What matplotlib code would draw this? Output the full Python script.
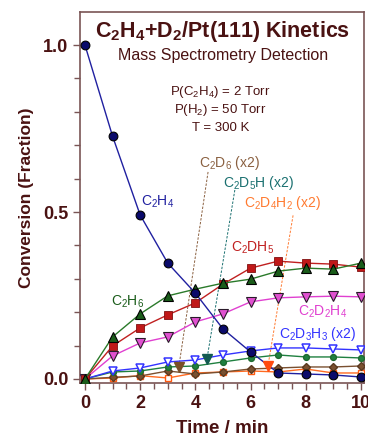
import numpy as np
import matplotlib
matplotlib.use('Agg')
import matplotlib.pyplot as plt
from matplotlib.ticker import MultipleLocator

plt.rcParams['font.family'] = ['Liberation Sans', 'DejaVu Sans']
plt.rcParams['mathtext.fontset'] = 'custom'
plt.rcParams['mathtext.rm'] = 'Liberation Sans'
plt.rcParams['mathtext.bf'] = 'Liberation Sans:bold'

# ─────────────────────────────────────────
# DATA
# ─────────────────────────────────────────
time = [0, 1, 2, 3, 4, 5, 6, 7, 8, 9, 10]

c2h4   = [1.0, 0.727, 0.491, 0.347, 0.257, 0.150, 0.081, 0.018, 0.015, 0.012, 0.006]
c2h6   = [0.0, 0.126, 0.195, 0.249, 0.269, 0.287, 0.299, 0.323, 0.332, 0.329, 0.347]
c2dh5  = [0.0, 0.099, 0.153, 0.192, 0.228, 0.284, 0.332, 0.353, 0.347, 0.344, 0.335]
c2d2h4 = [0.0, 0.069, 0.108, 0.126, 0.171, 0.195, 0.231, 0.243, 0.246, 0.248, 0.246]
c2d3h3 = [0.0, 0.024, 0.033, 0.051, 0.057, 0.072, 0.084, 0.093, 0.093, 0.090, 0.087]
c2d5h  = [0.0, 0.021, 0.024, 0.036, 0.039, 0.051, 0.063, 0.072, 0.066, 0.066, 0.063]
c2d6   = [0.0, 0.005, 0.009, 0.024, 0.015, 0.021, 0.030, 0.033, 0.036, 0.036, 0.039]
c2d4h2 = [0.0, 0.003, 0.010, 0.003, 0.018, 0.021, 0.024, 0.021, 0.030, 0.018, 0.018]

# pointer arrows: (label position, line start, arrow tip)
pointer_labels = [r'C$_2$D$_6$ (x2)', r'C$_2$D$_5$H (x2)', r'C$_2$D$_4$H$_2$ (x2)']
pointer_text_xy = [(5.25, 0.647), (6.27, 0.587), (7.17, 0.527)]
pointer_start = [(4.46, 0.62), (5.43, 0.566), (7.54, 0.49)]
pointer_tip = [(3.40, 0.036), (4.42, 0.060), (6.63, 0.039)]
pointer_colors = ['#8a6040', '#1a7070', '#ff7a30']
pointer_fill = ['#7a5028', '#125a50', '#ff4a10']

ink = '#4a1212'
spine = '#7a5555'

# ─────────────────────────────────────────
# PLOT
# ─────────────────────────────────────────
fig = plt.figure(figsize=(3.68, 4.38), dpi=100)
ax = fig.add_axes([80/368, 1 - 383/438, 284/368, 371/438])

ax.plot(time, c2d4h2, '-s', color='#ff6a20', mfc='white', mec='#ff5a10',
        ms=4.5, lw=1.0, mew=1.0, zorder=3)
ax.plot(time, c2d6, '-D', color='#7a5030', mfc='#7a5030', mec='#5a3a20',
        ms=4.5, lw=1.0, zorder=3)
ax.plot(time, c2d5h, '-o', color='#1f8040', mfc='#1f8040', mec='#1f6a30',
        ms=4.2, lw=1.0, zorder=3)
ax.plot(time, c2d3h3, '-v', color='#3333ff', mfc='white', mec='#3333ff',
        ms=6, lw=1.0, mew=1.1, zorder=3)
ax.plot(time, c2d2h4, '-v', color='#e040d0', mfc='#e050d0', mec='#2a1a2a',
        ms=6.5, lw=1.0, mew=0.8, zorder=4)
ax.plot(time, c2dh5, '-s', color='#c02020', mfc='#c01818', mec='#801010',
        ms=5.2, lw=1.0, mew=0.6, zorder=4)
ax.plot(time, c2h6, '-^', color='#2a7a2a', mfc='#1a5c1a', mec='black',
        ms=6.5, lw=1.0, mew=0.8, zorder=4)
ax.plot(time, c2h4, '-o', color='#2020a0', mfc='#0a0a6a', mec='black',
        ms=6.3, lw=1.0, mew=0.8, zorder=5)

for lab, txy, st, tip, col, fc in zip(pointer_labels, pointer_text_xy,
                                       pointer_start, pointer_tip,
                                       pointer_colors, pointer_fill):
    ax.plot([st[0], tip[0]], [st[1], tip[1]], '--', color=col, lw=0.7,
            dashes=(2.5, 1.5), zorder=2)
    ax.plot(tip[0], tip[1], 'v', color=fc, ms=7, mec=fc, zorder=6)
    ax.text(txy[0], txy[1], lab, color=col, fontsize=10,
            ha='center', va='center')

lab_fs = 10
ax.text(2.64, 0.53, r'C$_2$H$_4$', color='#2020a0', fontsize=lab_fs,
        ha='center', va='center')
ax.text(6.09, 0.392, r'C$_2$DH$_5$', color='#c02020', fontsize=lab_fs,
        ha='center', va='center')
ax.text(1.56, 0.23, r'C$_2$H$_6$', color='#1a5c1a', fontsize=lab_fs,
        ha='center', va='center')
ax.text(8.62, 0.20, r'C$_2$D$_2$H$_4$', color='#e040d0', fontsize=lab_fs,
        ha='center', va='center')
ax.text(8.42, 0.135, r'C$_2$D$_3$H$_3$ (x2)', color='#3333ff', fontsize=lab_fs,
        ha='center', va='center')

# title and conditions
ax.text(5.0, 1.04, r'$\mathbf{C_2H_4}$+$\mathbf{D_2}$/Pt(111) Kinetics',
        color=ink, fontsize=15.5, fontweight='bold', ha='center', va='center')
ax.text(5.0, 0.968, 'Mass Spectrometry Detection', color=ink,
        fontsize=11.5, ha='center', va='center')
ax.text(4.9, 0.86, r'P(C$_2$H$_4$) = 2 Torr', color=ink, fontsize=9.5,
        ha='center', va='center')
ax.text(4.9, 0.806, r'P(H$_2$) = 50 Torr', color=ink, fontsize=9.5,
        ha='center', va='center')
ax.text(4.9, 0.752, 'T = 300 K', color=ink, fontsize=9.5,
        ha='center', va='center')

ax.set_xlim(-0.18, 10.11)
ax.set_ylim(-0.012, 1.099)
ax.set_xticks([0, 2, 4, 6, 8, 10])
ax.set_yticks([0.0, 0.5, 1.0])
ax.set_yticklabels(['0.0', '0.5', '1.0'])
ax.xaxis.set_minor_locator(MultipleLocator(0.5))
ax.yaxis.set_minor_locator(MultipleLocator(0.1))
ax.tick_params(which='both', direction='out', colors=spine,
               labelcolor=ink, labelsize=13, width=1)
ax.tick_params(which='major', length=5)
ax.tick_params(which='minor', length=4)
for t in ax.get_xticklabels() + ax.get_yticklabels():
    t.set_fontweight('bold')
for s in ax.spines.values():
    s.set_color(spine)
    s.set_linewidth(1.2)

ax.set_xlabel('Time / min', color=ink, fontsize=13.5, fontweight='bold',
              labelpad=6)
ax.set_ylabel('Conversion (Fraction)', color=ink, fontsize=12.5,
              fontweight='bold', labelpad=6)

plt.savefig('out.png', dpi=100)
plt.close()
